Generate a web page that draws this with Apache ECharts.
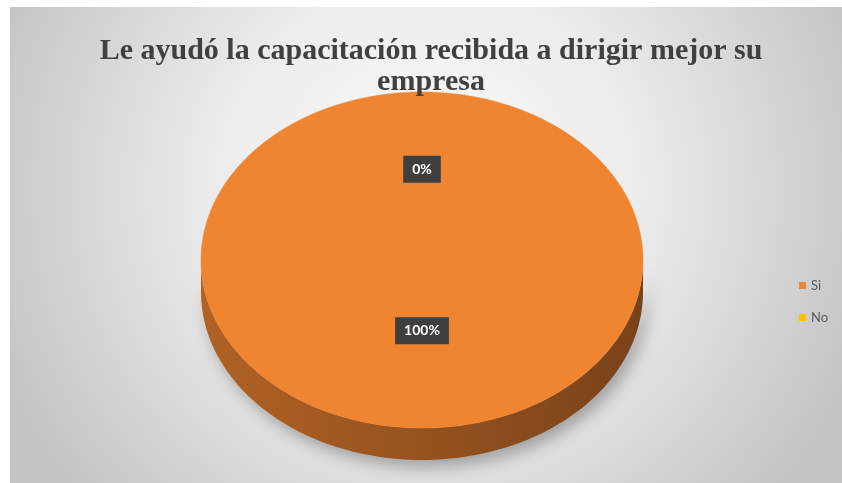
<!DOCTYPE html>
<html>
<head>
<meta charset="utf-8">
<script src="https://cdn.jsdelivr.net/npm/echarts@6/dist/echarts.min.js"></script>
<style>
  html, body { margin: 0; padding: 0; background: #ffffff; }
  #chart { width: 842px; height: 483px; }
</style>
</head>
<body>
<div id="chart"></div>
<script>
// Survey answers and their shares (percent)
const categories = ['Si', 'No'];
const shares = [100, 0];
const sliceColors = ['#EF8431', '#FFC000'];
const titleText = 'Le ayudó la capacitación recibida a dirigir mejor su\nempresa';

// Tilted pie geometry (top face ellipse + wall height)
const PIE = { cx: 422, cy: 260, rx: 221, ry: 168, depth: 32 };

const total = shares.reduce((a, b) => a + b, 0);

function sliceAngles(k) {
  let before = 0;
  for (let i = 0; i < k; i++) before += shares[i];
  const a0 = -Math.PI / 2 + before / total * Math.PI * 2;
  const a1 = a0 + shares[k] / total * Math.PI * 2;
  return [a0, a1];
}

function arcPoints(a0, a1, dy, n) {
  const pts = [];
  for (let i = 0; i <= n; i++) {
    const t = a0 + (a1 - a0) * i / n;
    pts.push([PIE.cx + PIE.rx * Math.cos(t), PIE.cy + dy + PIE.ry * Math.sin(t)]);
  }
  return pts;
}

function darken(hex, f) {
  const n = parseInt(hex.slice(1), 16);
  const r = Math.min(255, Math.round(((n >> 16) & 255) * f));
  const g = Math.min(255, Math.round(((n >> 8) & 255) * f));
  const b = Math.min(255, Math.round((n & 255) * f));
  return 'rgb(' + r + ',' + g + ',' + b + ')';
}

function makeRenderItem(k) {
  return function (params, api) {
    const share = api.value(0);
    const [a0, a1] = sliceAngles(k);
    const children = [];
    const color = sliceColors[k];

    if (share > 0) {
      // front wall: the part of the slice rim facing the viewer (angles 0..PI)
      for (let off = -2; off <= 2; off++) {
        const lo = Math.max(a0, off * 2 * Math.PI);
        const hi = Math.min(a1, off * 2 * Math.PI + Math.PI);
        if (hi > lo) {
          const n = Math.max(8, Math.ceil((hi - lo) / Math.PI * 120));
          const upper = arcPoints(lo, hi, 0, n);
          const lower = arcPoints(lo, hi, PIE.depth, n).reverse();
          children.push({
            type: 'polygon',
            shape: { points: upper.concat(lower) },
            style: {
              fill: new echarts.graphic.LinearGradient(0, 0, 1, 0, [
                { offset: 0, color: darken(color, 0.74) },
                { offset: 0.45, color: darken(color, 0.64) },
                { offset: 1, color: darken(color, 0.5) }
              ]),
              shadowBlur: 16,
              shadowOffsetX: 5,
              shadowOffsetY: 7,
              shadowColor: 'rgba(0,0,0,0.3)'
            }
          });
        }
      }
      // top face
      const full = share >= total;
      const n = Math.max(8, Math.ceil((a1 - a0) / Math.PI * 180));
      let pts = arcPoints(a0, a1, 0, n);
      if (!full) pts = [[PIE.cx, PIE.cy]].concat(pts);
      children.push({
        type: 'polygon',
        shape: { points: pts },
        style: { fill: color, stroke: darken(color, 1.02), lineWidth: 0.5 }
      });
    }

    // data label
    const mid = (a0 + a1) / 2;
    children.push({
      type: 'text',
      x: PIE.cx + 0.48 * PIE.rx * Math.cos(mid),
      y: PIE.cy + 0.48 * PIE.ry * Math.sin(mid) - 10,
      z2: 10,
      style: {
        text: Math.round(share / total * 100) + '%',
        fill: '#ffffff',
        font: 'bold 14px Lato, "Liberation Sans", sans-serif',
        align: 'center',
        verticalAlign: 'middle',
        backgroundColor: '#3f3f3f',
        padding: [7, 9, 6, 9]
      }
    });
    return { type: 'group', children: children };
  };
}

const chart = echarts.init(document.getElementById('chart'));

chart.setOption({
  animation: false,
  backgroundColor: '#ffffff',
  graphic: [{
    type: 'rect',
    left: 10,
    top: 7,
    z: -10,
    shape: { width: 832, height: 476 },
    style: {
      fill: new echarts.graphic.RadialGradient(0.5, 0.38, 0.98, [
        { offset: 0, color: '#fbfbfb' },
        { offset: 0.45, color: '#ececec' },
        { offset: 1, color: '#c3c3c3' }
      ])
    }
  }],
  title: {
    text: titleText,
    left: 426,
    top: 31,
    textAlign: 'center',
    textStyle: {
      fontFamily: '"Liberation Serif", "DejaVu Serif", serif',
      fontWeight: 'bold',
      fontSize: 30,
      lineHeight: 31,
      color: '#404040'
    }
  },
  legend: {
    data: categories,
    orient: 'vertical',
    left: 794,
    top: 274,
    itemWidth: 7,
    itemHeight: 7,
    itemGap: 19,
    icon: 'rect',
    textStyle: {
      fontFamily: 'Lato, "Liberation Sans", sans-serif',
      fontSize: 13,
      color: '#595959'
    }
  },
  series: categories.map((name, k) => ({
    type: 'custom',
    name: name,
    coordinateSystem: 'none',
    itemStyle: { color: sliceColors[k] },
    data: [[shares[k]]],
    renderItem: makeRenderItem(k)
  }))
});
</script>
</body>
</html>
